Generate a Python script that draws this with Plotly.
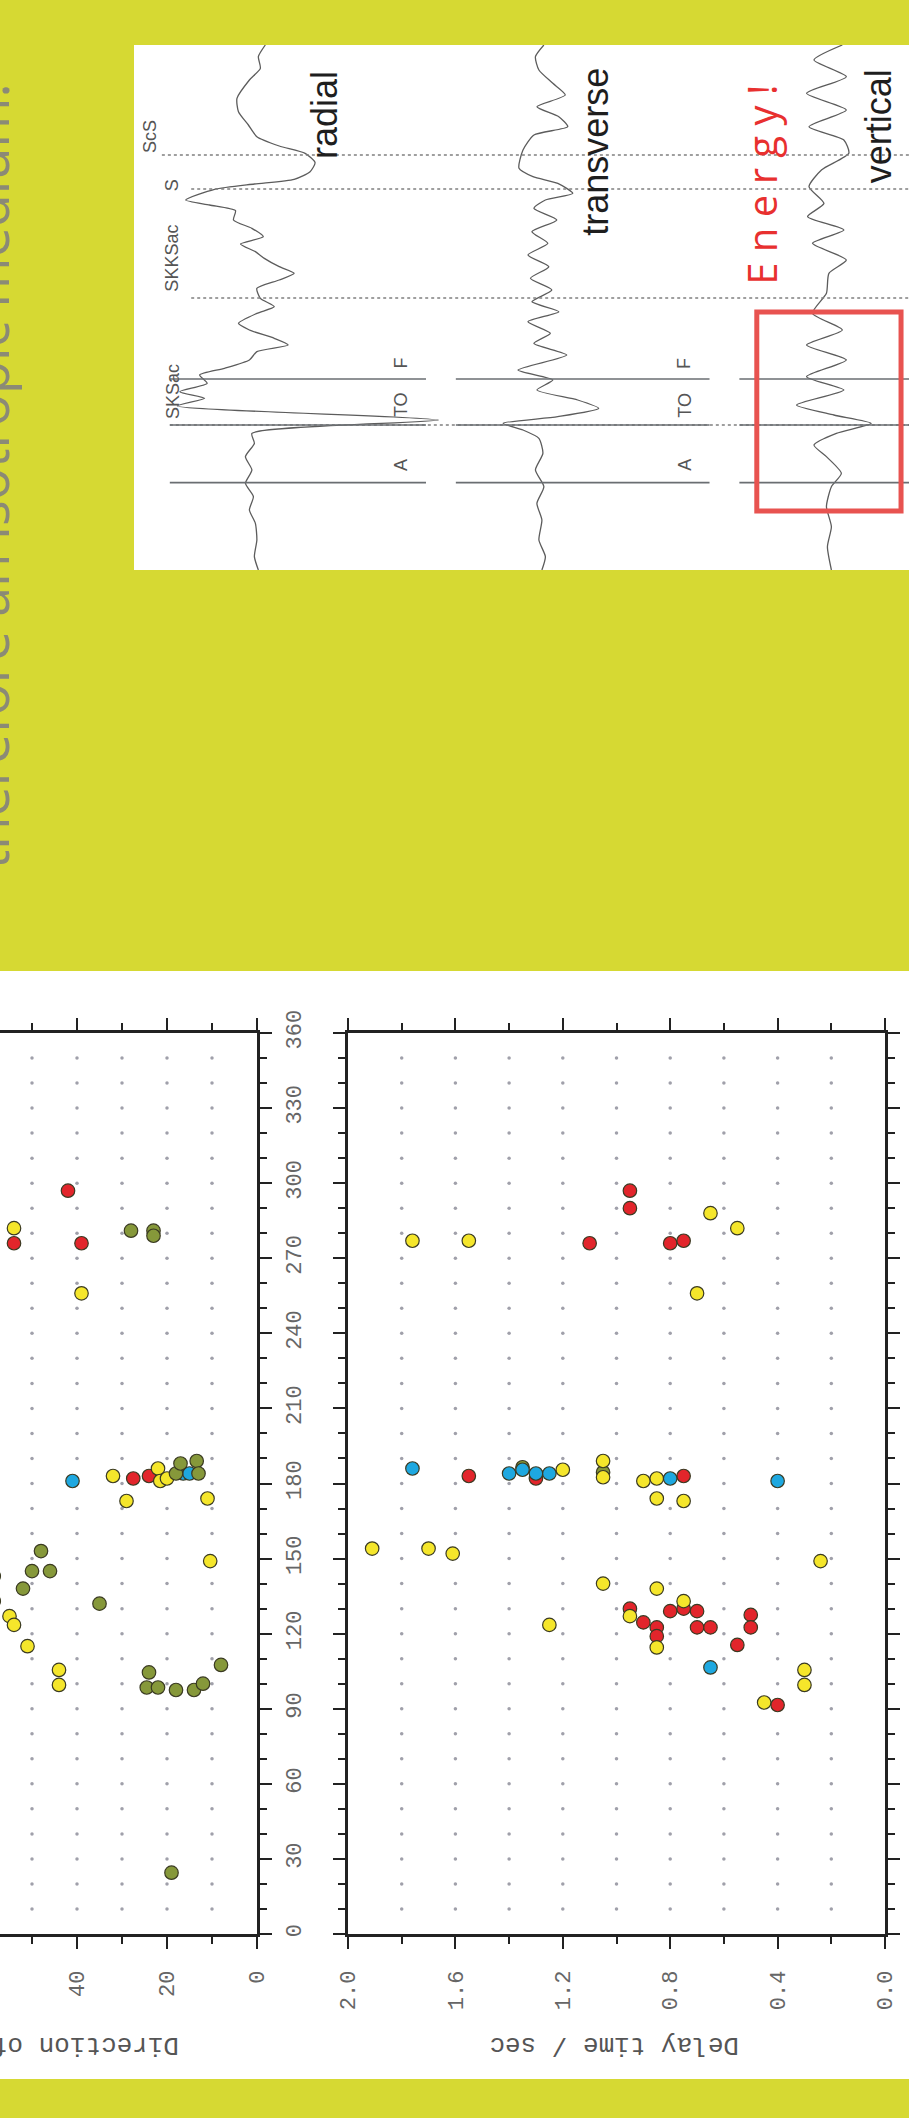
import plotly.graph_objects as go

W, H = 909, 2118

# ---------------- splitting results: fast direction (deg) vs backazimuth (deg)
dir_red_val = [42, 54, 39, 27.5, 24]
dir_red_baz = [297, 276, 276, 182, 183]

dir_blue_val = [41, 16.4, 15]
dir_blue_baz = [181, 184, 184]

dir_yellow_val = [54, 39, 32, 22, 21.5, 20, 29, 11, 55, 54, 51, 44, 44, 10.4]
dir_yellow_baz = [282, 256, 183, 186, 181, 182, 173, 174, 127, 123.5, 115, 105.5, 99.5, 149]

dir_olive_val = [28, 23, 23, 18, 17, 13.4, 13, 48, 50, 46, 58.5, 58.5, 52, 35,
                 24, 24.5, 22, 18, 14, 12, 8, 19]
dir_olive_baz = [281, 281, 279, 184, 188, 189, 184, 153, 145, 145, 143, 133, 138, 132,
                 104.5, 98.5, 98.5, 97.5, 97.5, 100, 107.5, 24.5]

# ---------------- splitting results: delay time (s) vs backazimuth (deg)
delay_red_val = [0.95, 0.95, 1.10, 0.80, 0.75, 1.55, 1.30, 0.75, 0.95, 0.90, 0.85,
                 0.85, 0.80, 0.75, 0.70, 0.70, 0.65, 0.55, 0.50, 0.50, 0.40]
delay_red_baz = [297, 290, 276, 276, 277, 183, 182, 183, 130, 124.5, 122.5,
                 119, 129, 130, 129, 122.5, 122.5, 115.5, 127.5, 122.5, 91.5]

delay_olive_val = [1.35, 1.05]
delay_olive_baz = [186.5, 184.5]

delay_yellow_val = [1.76, 1.55, 0.65, 0.55, 0.70, 1.20, 1.05, 1.05, 0.90, 0.85, 0.85,
                    0.75, 1.91, 1.70, 1.61, 0.24, 1.05, 0.85, 1.25, 0.95, 0.85, 0.75,
                    0.30, 0.30, 0.45]
delay_yellow_baz = [277, 277, 288, 282, 256, 185.5, 189, 182.5, 181, 182, 174,
                    173, 154, 154, 152, 149, 140, 138, 123.5, 127, 114.5, 133,
                    105.5, 99.5, 92.5]

delay_blue_val = [1.76, 1.40, 1.35, 1.30, 1.25, 0.80, 0.40, 0.65]
delay_blue_baz = [186, 184, 185.5, 184, 184, 182, 181, 106.5]

# grid dot positions
baz_grid = list(range(10, 360, 10))
dir_grid = [10, 20, 30, 40, 50]
delay_grid = [0.2, 0.4, 0.6, 0.8, 1.0, 1.2, 1.4, 1.6, 1.8]

# ---------------- seismogram panel (panel units: amplitude position, time downwards)
radial_x = [272, 258, 262, 240, 215, 218, 238, 255, 300, 352, 372, 362, 330, 250, 170, 112,
            160, 212, 208, 245, 268, 222, 252, 270, 300, 330, 300, 255, 262, 290, 255, 218,
            240, 290, 318, 255, 240, 190, 140, 155, 100, 150, 95, 620, 245, 250, 232, 245,
            232, 248, 240, 252, 255, 250, 258]
radial_t = [15, 50, 85, 120, 175, 215, 255, 290, 318, 340, 368, 395, 418, 432, 448, 480,
            495, 512, 540, 565, 590, 612, 635, 655, 680, 700, 720, 745, 775, 800, 820, 850,
            870, 895, 915, 935, 960, 985, 1005, 1030, 1055, 1075, 1098, 1140, 1180, 1210, 1250, 1290,
            1330, 1370, 1410, 1450, 1500, 1550, 1590]

transverse_x = [832, 815, 822, 850, 875, 818, 862, 880, 812, 790, 782, 810, 860, 890, 835, 812,
                858, 808, 840, 800, 842, 805, 848, 808, 862, 800, 845, 812, 878, 780, 850, 818,
                900, 942, 860, 750, 790, 822, 830, 815, 832, 818, 828, 822, 835, 828]
transverse_t = [15, 50, 90, 130, 165, 200, 230, 260, 285, 330, 385, 410, 430, 460, 480, 505,
                540, 575, 610, 645, 680, 715, 750, 785, 815, 845, 880, 910, 945, 990, 1020, 1050,
                1080, 1105, 1130, 1150, 1170, 1195, 1240, 1290, 1340, 1390, 1440, 1500, 1550, 1590]

vertical_x = [1432, 1375, 1440, 1360, 1440, 1365, 1435, 1445, 1390, 1365, 1395, 1362, 1435, 1372,
              1440, 1405, 1400, 1372, 1432, 1360, 1440, 1360, 1435, 1340, 1415, 1490, 1420, 1375,
              1400, 1430, 1410, 1400, 1410, 1402, 1410]
vertical_t = [15, 60, 110, 160, 210, 260, 300, 340, 390, 440, 490, 530, 570, 610,
              660, 700, 760, 820, 870, 915, 960, 1010, 1050, 1095, 1125, 1150, 1180, 1215,
              1250, 1300, 1340, 1400, 1460, 1520, 1590]

phase_names = ["ScS", "S", "SKKSac", "SKSac"]
phase_t = [288, 435, 655, 1055]
phase_x = [40, 85, 85, 85]
dotted_t = [345, 447, 774]
dotted_start = [64, 123, 123]
pick_names = ["F", "TO", "A"]
pick_t = [1017, 1155, 1328]
pick_label_t = [970, 1095, 1275]
segments = [(80, 595), (655, 1165), (1225, 1566)]

LIME = "#D6D933"
MONO = "Liberation Mono"
EDGE = "#3a3a22"


def fx(p):
    return p / W


def fy(p):
    return 1 - p / H


fig = go.Figure()

# grid dots on both scatter panels
gx, gy = [], []
for v in dir_grid:
    for b in baz_grid:
        gx.append(v)
        gy.append(b)
fig.add_trace(go.Scatter(x=gx, y=gy, mode="markers", xaxis="x", yaxis="y",
                         marker=dict(size=3.5, color="#a0a0aa"), hoverinfo="skip"))
gx, gy = [], []
for v in delay_grid:
    for b in baz_grid:
        gx.append(v)
        gy.append(b)
fig.add_trace(go.Scatter(x=gx, y=gy, mode="markers", xaxis="x2", yaxis="y2",
                         marker=dict(size=3.5, color="#a0a0aa"), hoverinfo="skip"))


def pts(xs, ys, color, ax, ay):
    fig.add_trace(go.Scatter(x=xs, y=ys, mode="markers", xaxis=ax, yaxis=ay,
                             marker=dict(size=13.5, color=color,
                                         line=dict(color=EDGE, width=1.2))))


RED, YEL, OLV, BLU = "#E2252B", "#F5E62B", "#86983A", "#1EA8E0"
pts(dir_red_val, dir_red_baz, RED, "x", "y")
pts(dir_blue_val, dir_blue_baz, BLU, "x", "y")
pts(dir_yellow_val, dir_yellow_baz, YEL, "x", "y")
pts(dir_olive_val, dir_olive_baz, OLV, "x", "y")

pts(delay_red_val, delay_red_baz, RED, "x2", "y2")
pts(delay_olive_val, delay_olive_baz, OLV, "x2", "y2")
pts(delay_yellow_val, delay_yellow_baz, YEL, "x2", "y2")
pts(delay_blue_val, delay_blue_baz, BLU, "x2", "y2")

# seismogram traces
for xs, ts in [(radial_x, radial_t), (transverse_x, transverse_t), (vertical_x, vertical_t)]:
    fig.add_trace(go.Scatter(x=xs, y=ts, mode="lines", xaxis="x3", yaxis="y3",
                             line=dict(color="#5c5c5c", width=1.3, shape="spline", smoothing=0.6),
                             hoverinfo="skip"))

shapes = [
    dict(type="rect", xref="paper", yref="paper", x0=0, x1=1, y0=fy(971), y1=1,
         fillcolor=LIME, line_width=0, layer="below"),
    dict(type="rect", xref="paper", yref="paper", x0=0, x1=1, y0=0, y1=fy(2079),
         fillcolor=LIME, line_width=0, layer="below"),
    dict(type="rect", xref="paper", yref="paper", x0=fx(134), x1=1, y0=fy(570), y1=fy(45),
         fillcolor="white", line_width=0, layer="below"),
]
for t, s in zip(dotted_t, dotted_start):
    shapes.append(dict(type="line", xref="x3", yref="y3", x0=s, x1=1566, y0=t, y1=t,
                       line=dict(color="#808080", width=1.5, dash="dot")))
shapes.append(dict(type="line", xref="x3", yref="y3", x0=80, x1=1566, y0=pick_t[1], y1=pick_t[1],
                   line=dict(color="#808080", width=1.5, dash="dot")))
for t in pick_t:
    for a, b in segments:
        shapes.append(dict(type="line", xref="x3", yref="y3", x0=a, x1=b, y0=t, y1=t,
                           line=dict(color="#6a6e72", width=1.6)))
shapes.append(dict(type="rect", xref="x3", yref="y3", x0=1260, x1=1550, y0=816, y1=1413,
                   line=dict(color="#E85350", width=5)))

ann = []
ann.append(dict(text="therefore an isotropic medium.", xref="paper", yref="paper",
                x=fx(-12), y=fy(476), xanchor="center", yanchor="middle", showarrow=False,
                textangle=-90, font=dict(family="Open Sans", size=54, color="#8b8a76")))
for name, t, x in zip(phase_names, phase_t, phase_x):
    ann.append(dict(text=name, xref="x3", yref="y3", x=x, y=t, showarrow=False, textangle=-90,
                    font=dict(family="Liberation Sans", size=18, color="#555555")))
for col in [545, 1115]:
    for name, t in zip(pick_names, pick_label_t):
        ann.append(dict(text=name, xref="x3", yref="y3", x=col, y=t, showarrow=False,
                        textangle=-90, font=dict(family="Liberation Sans", size=18, color="#555555")))
for name, x, t in [("radial", 392, 225), ("transverse", 937, 335), ("vertical", 1505, 260)]:
    ann.append(dict(text=name, xref="x3", yref="y3", x=x, y=t, showarrow=False, textangle=-90,
                    font=dict(family="Liberation Sans", size=36, color="#1e1e1e")))
ann.append(dict(text="E n e r g y !", xref="x3", yref="y3", x=1270, y=435, showarrow=False,
                textangle=-90, font=dict(family="Open Sans", size=40, color="#E8302F")))
ann.append(dict(text="Direction of fast axis", xref="paper", yref="paper", x=fx(8), y=fy(2045),
                xanchor="center", yanchor="middle", showarrow=False, textangle=180,
                font=dict(family=MONO, size=26, color="#555555")))
ann.append(dict(text="Delay time / sec", xref="paper", yref="paper", x=fx(614), y=fy(2045),
                xanchor="center", yanchor="middle", showarrow=False, textangle=180,
                font=dict(family=MONO, size=26, color="#555555")))

tickfont = dict(family=MONO, size=22, color="#666666")
common = dict(showline=True, linecolor="#222222", linewidth=2.5, ticks="outside",
              ticklen=12, tickwidth=1.5, tickcolor="#222222", showgrid=False,
              zeroline=False, tickangle=-90, tickfont=tickfont, fixedrange=True,
              automargin=False)
minor_common = dict(ticks="outside", ticklen=7, tickwidth=1.5, tickcolor="#222222",
                    showgrid=False)

ydom = [fy(1934), fy(1033)]
fig.update_layout(
    template="none",
    width=W, height=H, margin=dict(l=0, r=0, t=0, b=0, pad=0, autoexpand=False),
    paper_bgcolor="white", plot_bgcolor="rgba(0,0,0,0)", showlegend=False,
    xaxis=dict(domain=[0, fx(257)], range=[57.11, 0], anchor="y", side="bottom",
               tick0=0, dtick=20, mirror="ticks", ticklabelstandoff=13,
               minor=dict(dtick=10, **minor_common), **common),
    yaxis=dict(domain=ydom, range=[0, 360], anchor="x", side="right", tick0=0, dtick=30,
               ticklabelstandoff=3, minor=dict(dtick=10, **minor_common), **common),
    xaxis2=dict(domain=[fx(348), fx(885)], range=[2.0, 0.0], anchor="y2", side="bottom",
                tick0=0, dtick=0.4, tickformat=".1f", mirror="ticks", ticklabelstandoff=13,
                minor=dict(dtick=0.2, **minor_common), **common),
    yaxis2=dict(domain=ydom, range=[0, 360], anchor="x2", side="right", tick0=0, dtick=30,
                mirror="ticks", showticklabels=False,
                minor=dict(dtick=10, **minor_common), **common),
    xaxis3=dict(domain=[fx(134), 1], range=[8, 1566], anchor="y3", visible=False,
                fixedrange=True, automargin=False),
    yaxis3=dict(domain=[fy(570), fy(45)], range=[1590, 15], anchor="x3", visible=False,
                fixedrange=True, automargin=False),
    shapes=shapes, annotations=ann,
)

# page without body margin or scrollbars so the figure fills the window exactly
page_style = ("document.body.style.margin='0';document.body.style.padding='0';"
              "document.documentElement.style.overflow='hidden';"
              "document.body.style.overflow='hidden';")
fig.write_html("out.html", post_script=page_style)
